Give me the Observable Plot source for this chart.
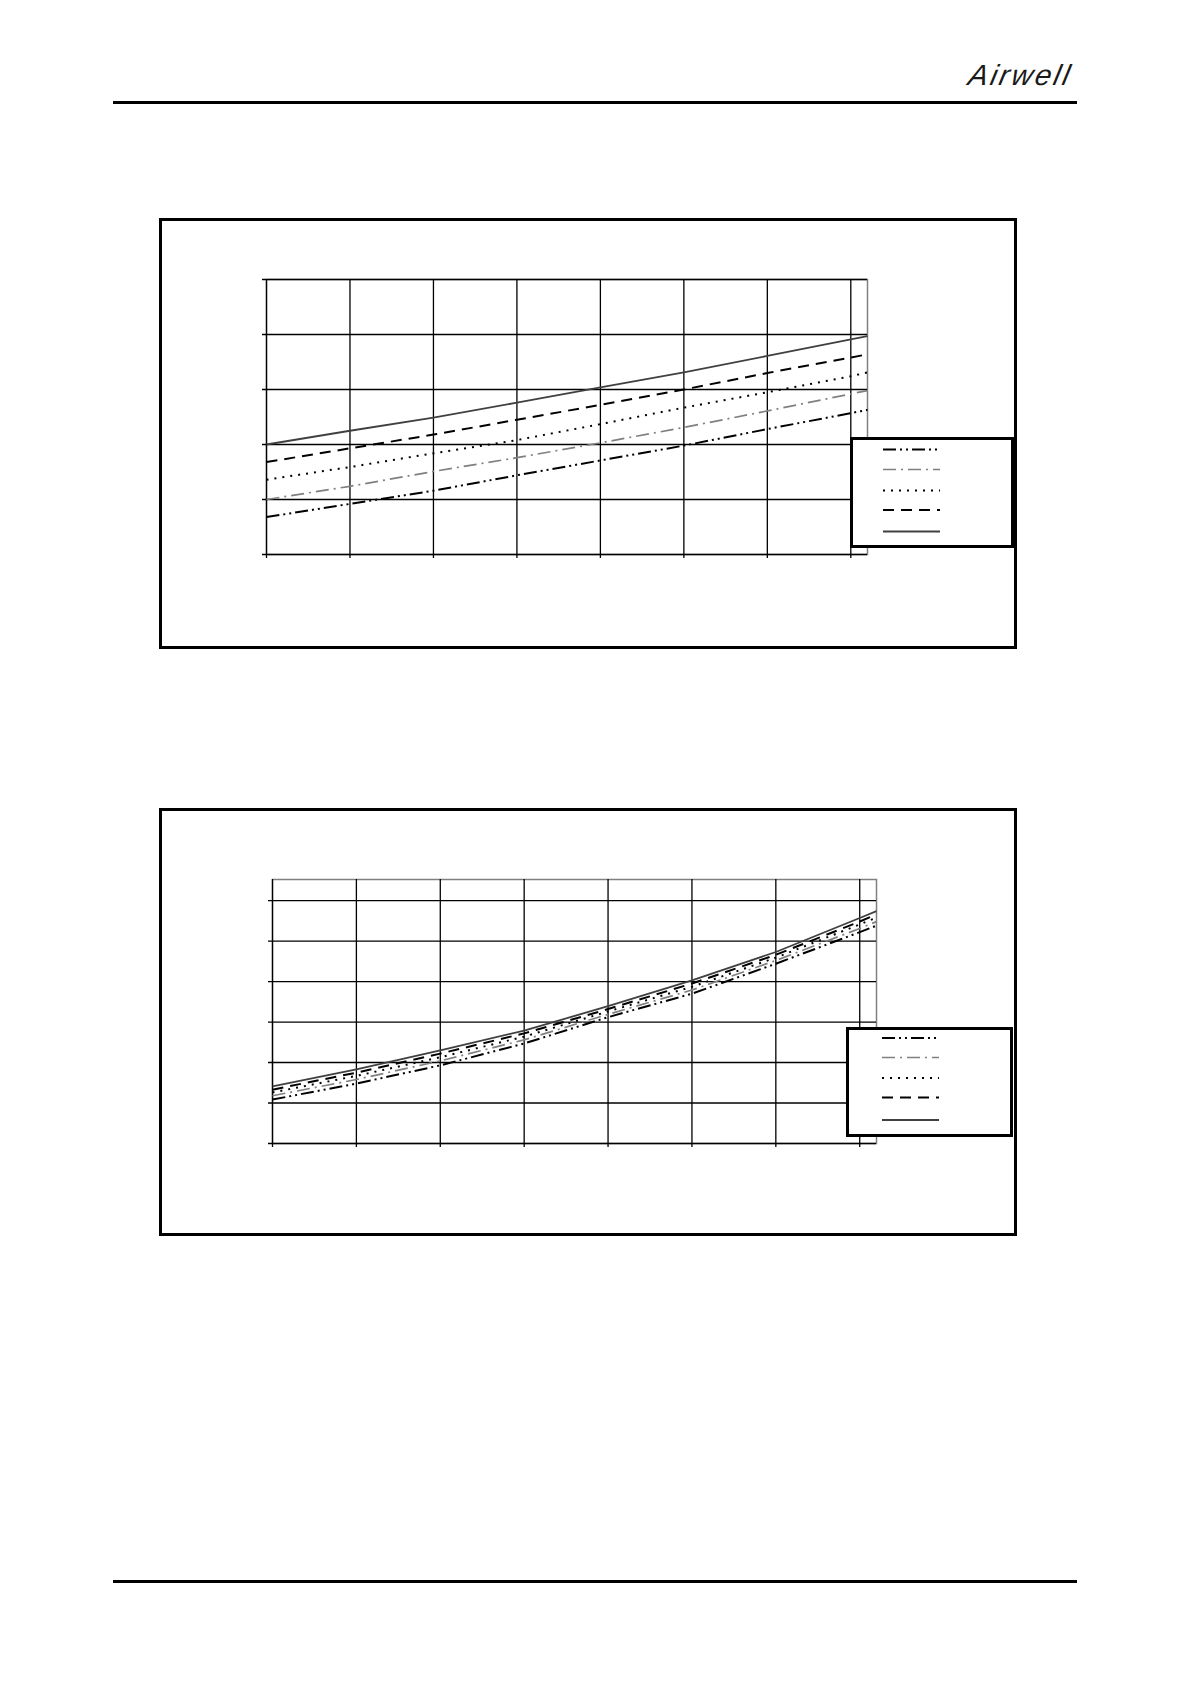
<!DOCTYPE html>
<html>
<head>
<meta charset="utf-8">
<script src="https://cdn.jsdelivr.net/npm/d3@7"></script>
<script src="https://cdn.jsdelivr.net/npm/@observablehq/plot@0.6"></script>
<style>
  html, body { margin: 0; padding: 0; background: #fff; }
  #page { position: relative; width: 1190px; height: 1684px; overflow: hidden; background: #fff; }
  .rule { position: absolute; background: #000; }
  .frame { position: absolute; border: 3px solid #000; box-sizing: border-box; }
  .legend { position: absolute; border: 3px solid #000; box-sizing: border-box; background: #fff; }
  .chart { position: absolute; }
  .logo { position: absolute; font-family: "Liberation Sans", Arial, sans-serif; font-style: italic;
          font-size: 29px; line-height: 29px; letter-spacing: 2.5px; color: #1a1a1a; white-space: nowrap;
          transform: skewX(-12deg); transform-origin: left bottom; }
</style>
</head>
<body>
<div id="page"></div>
<script>
// ---------- data ----------
const temperatures = [-15, -10, -5, 0, 5, 10, 15, 20, 21];
const xTicks = [-15, -10, -5, 0, 5, 10, 15, 20];
const xDomain = [-15, 21];

// chart 1 (upper)
const upperTicks = [0, 1, 2, 3, 4, 5];
const upperDomain = [0, 5];
const upperA = [0.68, 0.92, 1.16, 1.44, 1.71, 1.98, 2.28, 2.57, 2.63];
const upperB = [1.00, 1.24, 1.51, 1.76, 2.03, 2.31, 2.61, 2.92, 2.98];
const upperC = [1.36, 1.59, 1.84, 2.08, 2.37, 2.67, 2.95, 3.24, 3.31];
const upperD = [1.68, 1.93, 2.18, 2.45, 2.72, 3.00, 3.30, 3.58, 3.64];
const upperE = [2.00, 2.25, 2.49, 2.76, 3.04, 3.31, 3.61, 3.91, 3.97];

// chart 2 (lower)
const lowerTicks = [0, 0.2, 0.4, 0.6, 0.8, 1.0, 1.2];
const lowerDomain = [0, 1.304];
const lowerA = [0.217, 0.296, 0.386, 0.494, 0.624, 0.740, 0.888, 1.044, 1.076];
const lowerB = [0.236, 0.316, 0.408, 0.512, 0.638, 0.758, 0.904, 1.062, 1.096];
const lowerC = [0.252, 0.334, 0.426, 0.528, 0.652, 0.774, 0.918, 1.082, 1.116];
const lowerD = [0.266, 0.350, 0.444, 0.544, 0.664, 0.790, 0.932, 1.096, 1.132];
const lowerE = [0.282, 0.366, 0.460, 0.558, 0.678, 0.806, 0.946, 1.114, 1.148];

const seriesKeys = ["A", "B", "C", "D", "E"];
const seriesStyles = {
  A: { stroke: "#000000", width: 2,   dash: "13,4,2,4,2,4" },
  B: { stroke: "#808080", width: 1.7, dash: "13,5,2,5" },
  C: { stroke: "#000000", width: 2,   dash: "2,6" },
  D: { stroke: "#000000", width: 2,   dash: "11,7" },
  E: { stroke: "#404040", width: 1.8, dash: null }
};

// ---------- layout helpers ----------
const page = document.getElementById("page");
function box(cls, l, t, w, h) {
  const d = document.createElement("div");
  d.className = cls;
  Object.assign(d.style, { left: l + "px", top: t + "px", width: w + "px", height: h + "px" });
  page.appendChild(d);
  return d;
}

// header / footer
box("rule", 113, 101, 964, 3);
box("rule", 113, 1580, 964, 3);
const logo = document.createElement("div");
logo.className = "logo";
logo.textContent = "Airwell";
logo.style.left = "966px";
logo.style.top = "61px";
page.appendChild(logo);

function drawChart(cfg) {
  box("frame", cfg.frame[0], cfg.frame[1], cfg.frame[2], cfg.frame[3]);
  const rows = [];
  seriesKeys.forEach((k, i) => {
    cfg.values[i].forEach((v, j) => rows.push({ x: temperatures[j], y: v, s: k }));
  });
  const marks = [
    Plot.frame({ stroke: "#808080", strokeWidth: 1.5 }),
    Plot.ruleX(xTicks, { stroke: "#000", strokeWidth: 1.3, insetBottom: -4 }),
    Plot.ruleY(cfg.ticks, { stroke: "#000", strokeWidth: 1.3, insetLeft: -4 })
  ];
  seriesKeys.forEach(k => {
    const st = seriesStyles[k];
    marks.push(Plot.line(rows.filter(r => r.s === k), {
      x: "x", y: "y", stroke: st.stroke, strokeWidth: st.width,
      strokeDasharray: st.dash || undefined, strokeLinecap: "butt"
    }));
  });
  const svg = Plot.plot({
    width: cfg.svg[2], height: cfg.svg[3],
    marginLeft: cfg.m[0], marginRight: cfg.m[1], marginTop: cfg.m[2], marginBottom: cfg.m[3],
    x: { domain: xDomain, axis: null },
    y: { domain: cfg.domain, axis: null },
    style: { background: "transparent", overflow: "visible" },
    marks
  });
  const holder = box("chart", cfg.svg[0], cfg.svg[1], cfg.svg[2], cfg.svg[3]);
  holder.appendChild(svg);

  // legend (line samples only)
  const lg = box("legend", cfg.legend[0], cfg.legend[1], cfg.legend[2], cfg.legend[3]);
  const ns = "http://www.w3.org/2000/svg";
  const ls = document.createElementNS(ns, "svg");
  ls.setAttribute("width", cfg.legend[2] - 6);
  ls.setAttribute("height", cfg.legend[3] - 6);
  ls.style.display = "block";
  seriesKeys.forEach((k, i) => {
    const st = seriesStyles[k];
    const ln = document.createElementNS(ns, "line");
    ln.setAttribute("x1", cfg.sample[0]);
    ln.setAttribute("x2", cfg.sample[1]);
    ln.setAttribute("y1", cfg.sampleY[i]);
    ln.setAttribute("y2", cfg.sampleY[i]);
    ln.setAttribute("stroke", st.stroke);
    ln.setAttribute("stroke-width", st.width);
    if (st.dash) ln.setAttribute("stroke-dasharray", st.dash);
    ls.appendChild(ln);
  });
  lg.appendChild(ls);
}

drawChart({
  frame: [159, 218, 858, 431],
  svg: [162, 221, 852, 425],
  m: [104, 147, 58, 92],
  domain: upperDomain, ticks: upperTicks,
  values: [upperA, upperB, upperC, upperD, upperE],
  legend: [850, 437, 164, 111],
  sample: [30, 87],
  sampleY: [9.5, 29.5, 50.5, 70, 91.5]
});

drawChart({
  frame: [159, 808, 858, 428],
  svg: [162, 811, 852, 422],
  m: [110, 138, 68, 90],
  domain: lowerDomain, ticks: lowerTicks,
  values: [lowerA, lowerB, lowerC, lowerD, lowerE],
  legend: [846, 1027, 167, 110],
  sample: [33, 90],
  sampleY: [8, 27.5, 48, 67.5, 90]
});
</script>
</body>
</html>
